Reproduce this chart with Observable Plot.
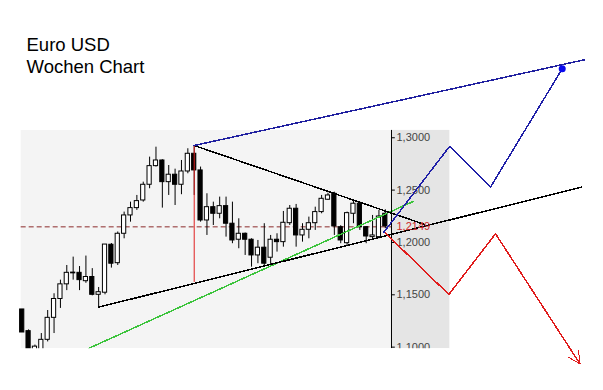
<!DOCTYPE html>
<html><head><meta charset="utf-8">
<script src="https://cdn.jsdelivr.net/npm/d3@7"></script>
<script src="https://cdn.jsdelivr.net/npm/@observablehq/plot@0.6"></script>
<style>body{margin:0;background:#fff}#chart svg{display:block;background:#fff}</style>
</head><body><div id="chart"></div>
<script>
// Weekly EUR/USD candles (week index = position in array)
const opens  = [1.136,1.1153,1.095,1.090,1.107,1.128,1.146,1.160,1.1705,1.171,1.163,1.167,1.150,1.152,1.1978,1.1802,1.2083,1.2258,1.2328,1.2401,1.2551,1.2729,1.2783,1.2576,1.2647,1.2551,1.2678,1.2847,1.2688,1.221,1.2337,1.2274,1.2347,1.2179,1.2026,1.2083,1.2026,1.1876,1.195,1.1854,1.2026,1.2003,1.2184,1.2322,1.2067,1.2121,1.2184,1.2290,1.2408,1.2465,1.2146,1.1993,1.2274,1.237,1.2146,1.2051,1.2051,1.2274];
const highs  = [1.136,1.1165,1.102,1.113,1.135,1.151,1.164,1.178,1.186,1.177,1.187,1.175,1.157,1.198,1.199,1.210,1.229,1.2385,1.2449,1.2576,1.2815,1.291,1.279,1.2735,1.270,1.2783,1.2895,1.2926,1.272,1.2465,1.2385,1.2433,1.2433,1.2385,1.2226,1.209,1.2035,1.2019,1.2179,1.2067,1.2083,1.2296,1.2353,1.2363,1.2179,1.2242,1.2337,1.2449,1.2471,1.248,1.2160,1.229,1.240,1.2385,1.2150,1.2258,1.2306,1.2312];
const lows   = [1.114,1.085,1.090,1.085,1.105,1.113,1.137,1.154,1.164,1.154,1.161,1.149,1.1382,1.150,1.1755,1.178,1.2035,1.2194,1.2306,1.2385,1.2513,1.272,1.2328,1.2449,1.2353,1.2456,1.2656,1.2449,1.2194,1.2067,1.2162,1.2226,1.2051,1.1988,1.194,1.1876,1.1764,1.1797,1.1764,1.178,1.1908,1.1955,1.2162,1.1955,1.2003,1.2035,1.2115,1.2274,1.2401,1.2067,1.1988,1.1971,1.2179,1.2115,1.1988,1.2035,1.2035,1.2131];
const closes = [1.114,1.090,1.1005,1.107,1.128,1.146,1.160,1.171,1.1712,1.164,1.167,1.150,1.1525,1.198,1.1797,1.2083,1.2258,1.2328,1.2395,1.2551,1.2729,1.2783,1.2576,1.2647,1.2551,1.2678,1.2847,1.2688,1.221,1.2337,1.2274,1.2347,1.2179,1.2019,1.2083,1.2026,1.1876,1.195,1.1797,1.2026,1.2003,1.2188,1.2322,1.2067,1.2121,1.2184,1.2290,1.2417,1.2449,1.2153,1.2019,1.228,1.237,1.2146,1.2057,1.2067,1.2248,1.2153];

const yTicks = [1.30, 1.25, 1.20, 1.15, 1.10];
const currentPrice = 1.2149;

// Trend lines and projections as [week, price]
const upperTrend = [[27, 1.2926], [63.16, 1.2172]];
const lowerTrend = [[12, 1.1382], [87.8, 1.2528]];
const greenTrend = [[10.5, 1.099], [61.4, 1.2392]];
const blueTrend  = [[27, 1.2926], [88.27, 1.3745]];
const peakDrop   = [{week: 27, top: 1.2926, bottom: 1.1618}];
const bullPath   = [[56.77, 1.2098], [67.08, 1.2917], [73.5, 1.2528], [84.77, 1.3659]];
const bearPath   = [[57, 1.2091], [66.97, 1.1503], [74.3, 1.2083], [87.54, 1.0842]];

const titleLines = "Euro USD\nWochen Chart";

// layout (scale units)
const xDomain = [-3.407, 91.25];
const yDomain = [1.0586, 1.4311];
const panelLeft = -0.16, axisAt = 57.97, bandRight = 67.13;
const panelTop = 1.307, panelBottom = 1.0985;
const halfBody = 0.33;

const candles = opens.map((o, i) => ({i, o, h: highs[i], l: lows[i], c: closes[i]}));
const fmt = v => d3.format(".4f")(v).replace(".", ",");
const font = "Liberation Sans, Arial, sans-serif";
const last = bearPath.length - 1;
const crisp = {shapeRendering: "crispEdges"};

const chart = Plot.plot({
  width: 603, height: 390, margin: 0,
  style: {background: "#fff", fontFamily: font},
  x: {domain: xDomain, axis: null},
  y: {domain: yDomain, axis: null},
  marks: [
    Plot.rect([0], {x1: panelLeft, x2: axisAt, y1: panelBottom, y2: panelTop, fill: "#f4f4f4"}),
    Plot.rect([0], {x1: axisAt, x2: bandRight, y1: panelBottom, y2: panelTop, fill: "#e5e5e5"}),
    Plot.ruleY([currentPrice], {x1: panelLeft, x2: axisAt, stroke: "#8c2a2a", strokeDasharray: "5,3"}),
    Plot.ruleX(candles, {x: "i", y1: "l", y2: "h", stroke: "#000"}),
    Plot.rect(candles, {x1: d => d.i - halfBody, x2: d => d.i + halfBody, y1: "o", y2: "c",
      fill: d => d.c >= d.o ? "#fff" : "#000", stroke: "#000"}),
    Plot.line(greenTrend, {x: d => d[0], y: d => d[1], stroke: "#3cc43c", ...crisp}),
    Plot.line(upperTrend, {x: d => d[0], y: d => d[1], stroke: "#000", ...crisp}),
    Plot.line(lowerTrend, {x: d => d[0], y: d => d[1], stroke: "#000", ...crisp}),
    Plot.ruleX(peakDrop, {x: "week", y1: "bottom", y2: "top", stroke: "#e02020"}),
    Plot.line(blueTrend, {x: d => d[0], y: d => d[1], stroke: "#2020a0", ...crisp}),
    Plot.ruleX([axisAt], {y1: panelBottom, y2: panelTop, stroke: "#000"}),
    Plot.ruleY(yTicks, {x1: axisAt, x2: axisAt + 0.6, stroke: "#000"}),
    Plot.text(yTicks, {x: axisAt, y: d => d, text: fmt, dx: 5, textAnchor: "start", fontSize: 11, fill: "#444"}),
    Plot.text([currentPrice], {x: axisAt, y: d => d, text: fmt, dx: 5, textAnchor: "start", fontSize: 11, fill: "#cc2a2a"}),
    Plot.rect([0], {x1: xDomain[0], x2: bandRight, y1: yDomain[0], y2: panelBottom, fill: "#fff"}),
    Plot.line(bullPath, {x: d => d[0], y: d => d[1], stroke: "#2020a8", ...crisp}),
    Plot.dot([bullPath[bullPath.length - 1]], {x: d => d[0], y: d => d[1], r: 3.5, fill: "#0a0aee", stroke: "none"}),
    Plot.line(bearPath.slice(0, last + 1), {x: d => d[0], y: d => d[1], stroke: "#e01c1c", ...crisp}),
    Plot.arrow([[bearPath[last - 1], bearPath[last]]], {x1: d => d[0][0], y1: d => d[0][1], x2: d => d[1][0], y2: d => d[1][1],
      stroke: "#e01c1c", strokeWidth: 1, headLength: 20, headAngle: 55, ...crisp}),
    Plot.text([titleLines], {frameAnchor: "top-left", dx: 26, dy: 35, lineAnchor: "top", lineHeight: 1.18,
      textAnchor: "start", fontSize: 18.5, fill: "#000", fontFamily: font})
  ]
});
document.getElementById("chart").append(chart);
</script>
</body></html>
